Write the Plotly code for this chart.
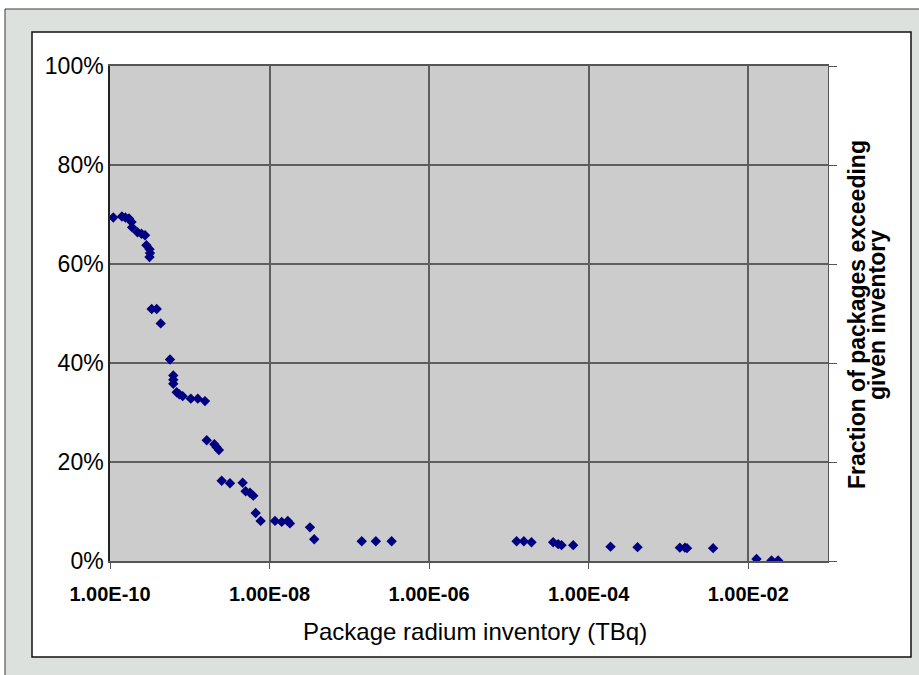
import plotly.graph_objects as go

# Package radium inventory (TBq)
inventory_tbq = [
    1.10e-10, 1.41e-10, 1.56e-10, 1.73e-10, 1.86e-10, 1.89e-10, 2.21e-10, 2.48e-10,
    2.75e-10, 2.86e-10, 3.13e-10, 3.17e-10, 3.13e-10, 3.33e-10, 3.85e-10, 4.32e-10,
    5.65e-10, 6.21e-10, 6.21e-10, 6.21e-10, 6.85e-10, 7.38e-10, 8.15e-10, 1.03e-9,
    1.26e-9, 1.55e-9, 1.63e-9, 2.03e-9, 2.17e-9, 2.32e-9, 2.51e-9, 3.19e-9,
    4.60e-9, 5.01e-9, 5.68e-9, 6.25e-9, 6.70e-9, 7.73e-9, 1.17e-8, 1.42e-8,
    1.69e-8, 1.80e-8, 3.21e-8, 3.63e-8, 1.43e-7, 2.15e-7, 3.39e-7, 1.25e-5,
    1.54e-5, 1.92e-5, 3.59e-5, 4.15e-5, 4.57e-5, 6.40e-5, 1.88e-4, 4.10e-4,
    1.39e-3, 1.61e-3, 1.71e-3, 3.63e-3, 1.27e-2, 1.96e-2, 2.37e-2,
]

# Fraction of packages exceeding given inventory (%)
fraction_pct = [
    69.4, 69.6, 69.4, 69.2, 68.5, 67.4, 66.4, 66.1,
    65.8, 63.8, 63.0, 62.2, 61.4, 50.9, 50.9, 48.0,
    40.7, 37.5, 36.6, 35.8, 34.1, 33.7, 33.3, 32.8,
    32.8, 32.3, 24.4, 23.6, 23.0, 22.4, 16.2, 15.7,
    15.8, 14.1, 13.8, 13.2, 9.7, 8.1, 8.1, 7.9,
    8.1, 7.6, 6.8, 4.4, 4.0, 4.0, 4.0, 4.0,
    4.0, 3.8, 3.8, 3.4, 3.2, 3.2, 2.9, 2.8,
    2.7, 2.7, 2.6, 2.6, 0.4, 0.1, 0.1,
]

x_tick_vals = [1e-10, 1e-8, 1e-6, 1e-4, 1e-2]
x_tick_text = ["1.00E-10", "1.00E-08", "1.00E-06", "1.00E-04", "1.00E-02"]
y_tick_vals = [0, 0.2, 0.4, 0.6, 0.8, 1.0]

x_title = "Package radium inventory (TBq)"
y2_title_lines = ["Fraction of packages exceeding", "given inventory"]

W, H = 919, 675
L, R, T, B = 110, 828, 66, 561  # plot area in pixels
pw, ph = R - L, B - T


def px(X):
    return (X - L) / pw


def py(Y):
    return (B - Y) / ph


FONT = "Liberation Sans, Arial, sans-serif"

fig = go.Figure()
fig.add_trace(go.Scatter(
    x=inventory_tbq,
    y=[v / 100 for v in fraction_pct],
    mode="markers",
    marker=dict(symbol="diamond", size=8, color="#000080", line=dict(width=0)),
    showlegend=False,
))
fig.add_trace(go.Scatter(x=[], y=[], yaxis="y2", showlegend=False, hoverinfo="skip"))

shapes = [
    # outer frame
    dict(type="rect", xref="paper", yref="paper", layer="below",
         x0=px(5), x1=px(935), y0=py(690), y1=py(9),
         fillcolor="#dce1de", line=dict(color="#3a3a3a", width=1)),
    # inner white chart box
    dict(type="rect", xref="paper", yref="paper", layer="below",
         x0=px(32), x1=px(911), y0=py(657), y1=py(32),
         fillcolor="white", line=dict(color="#111111", width=1.5)),
    # plot area background
    dict(type="rect", xref="paper", yref="paper", layer="below",
         x0=0, x1=1, y0=0, y1=1,
         fillcolor="#cccccc", line=dict(width=0)),
]

annotations = [
    dict(text=x_title, xref="paper", yref="paper", x=px(475), y=py(631),
         xanchor="center", yanchor="middle", showarrow=False,
         font=dict(family=FONT, size=24, color="black")),
]
for line, cx in zip(y2_title_lines, [857, 877]):
    annotations.append(dict(
        text="<b>" + line + "</b>", xref="paper", yref="paper", x=px(cx), y=py(315),
        xanchor="center", yanchor="middle", showarrow=False, textangle=-90,
        font=dict(family=FONT, size=23, color="black")))

fig.update_layout(
    width=W, height=H,
    margin=dict(l=L, r=W - R, t=T, b=H - B, pad=0),
    paper_bgcolor="white",
    plot_bgcolor="rgba(0,0,0,0)",
    shapes=shapes,
    annotations=annotations,
    xaxis=dict(
        type="log", range=[-10, -1],
        tickvals=x_tick_vals, ticktext=x_tick_text,
        tickfont=dict(family=FONT, size=20, color="black", weight="bold"),
        ticks="outside", ticklen=6, tickcolor="#555555", tickwidth=1,
        ticklabelstandoff=8,
        showgrid=True, gridcolor="#5e5e5e", gridwidth=1.5,
        showline=True, linecolor="#555555", linewidth=1.5, mirror=True,
        zeroline=False,
    ),
    yaxis=dict(
        range=[0, 1], tickvals=y_tick_vals, tickformat=".0%",
        tickfont=dict(family=FONT, size=23, color="black"),
        ticks="", ticklabelstandoff=0,
        showgrid=True, gridcolor="#5e5e5e", gridwidth=1.5,
        showline=True, linecolor="#222222", linewidth=1.5,
        zeroline=False,
    ),
    yaxis2=dict(
        overlaying="y", side="right", range=[0, 1], tickvals=y_tick_vals,
        showticklabels=False, ticks="outside", ticklen=8, tickcolor="#555555",
        showgrid=False, showline=True, linecolor="#555555", linewidth=1,
        zeroline=False,
    ),
    font=dict(family=FONT, color="black"),
)

fig.write_html("out.html", config={"displayModeBar": False},
               post_script="document.body.style.margin='0';")
